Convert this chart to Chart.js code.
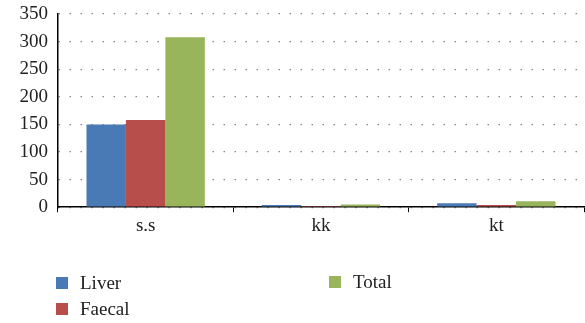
<!DOCTYPE html>
<html lang="en">
<head>
    <meta charset="UTF-8">
    <script src="https://cdn.jsdelivr.net/npm/chart.js"></script>
    <style>
        body { margin: 0; background: #fff; }
        .wrap { position: relative; width: 585px; height: 323px; }
        .legend-item { position: absolute; display: flex; align-items: center; font-family: "Liberation Serif", serif; font-size: 19px; color: #222; }
        .legend-item span.box { width: 12px; height: 12px; margin-right: 12px; }
    </style>
</head>
<body>
    <div class="wrap">
        <canvas id="chart" width="585" height="323"></canvas>
        <div id="legend"></div>
    </div>
    <script>
        const categories = ['s.s', 'kk', 'kt'];
        const liver = [150, 4, 7];
        const faecal = [158, 2, 4];
        const total = [308, 5, 11];
        const seriesNames = ['Liver', 'Faecal', 'Total'];
        const seriesColors = ['#4a7ab5', '#b84e4b', '#98b55b'];
        const yTicks = [0, 50, 100, 150, 200, 250, 300, 350];

        const font = { family: '"Liberation Serif", serif', size: 19 };

        new Chart(document.getElementById('chart'), {
            type: 'bar',
            data: {
                labels: categories,
                datasets: [liver, faecal, total].map((d, i) => ({
                    label: seriesNames[i],
                    data: d,
                    backgroundColor: seriesColors[i],
                    categoryPercentage: 0.675,
                    barPercentage: 1.0
                }))
            },
            options: {
                responsive: false,
                animation: false,
                layout: { padding: { top: 14, right: 1, bottom: 84, left: 0 } },
                plugins: { legend: { display: false }, tooltip: { enabled: false } },
                scales: {
                    x: {
                        grid: { drawOnChartArea: false, drawTicks: true, tickLength: 5, color: '#000', offset: true },
                        border: { color: '#000', width: 1.5 },
                        ticks: { font: font, color: '#222', padding: 2 }
                    },
                    y: {
                        min: 0, max: 350,
                        afterFit: s => { s.width = 58; s.paddingTop = 0; s.paddingBottom = 0; },
                        afterBuildTicks: s => { s.ticks = yTicks.map(v => ({ value: v })); },
                        grid: { color: '#888', lineWidth: 1.2, drawTicks: false },
                        border: { color: '#000', width: 1.5, dash: [1.5, 9.5] },
                        ticks: { font: font, color: '#222', padding: 10 }
                    }
                }
            }
        });

        // legend in the reference's odd two-column layout
        const legendPos = [[56, 272], [56, 298], [329, 271]];
        const legend = document.getElementById('legend');
        seriesNames.forEach((name, i) => {
            const el = document.createElement('div');
            el.className = 'legend-item';
            el.style.left = legendPos[i][0] + 'px';
            el.style.top = legendPos[i][1] + 'px';
            el.innerHTML = `<span class="box" style="background:${seriesColors[i]}"></span>${name}`;
            legend.appendChild(el);
        });
    </script>
</body>
</html>
